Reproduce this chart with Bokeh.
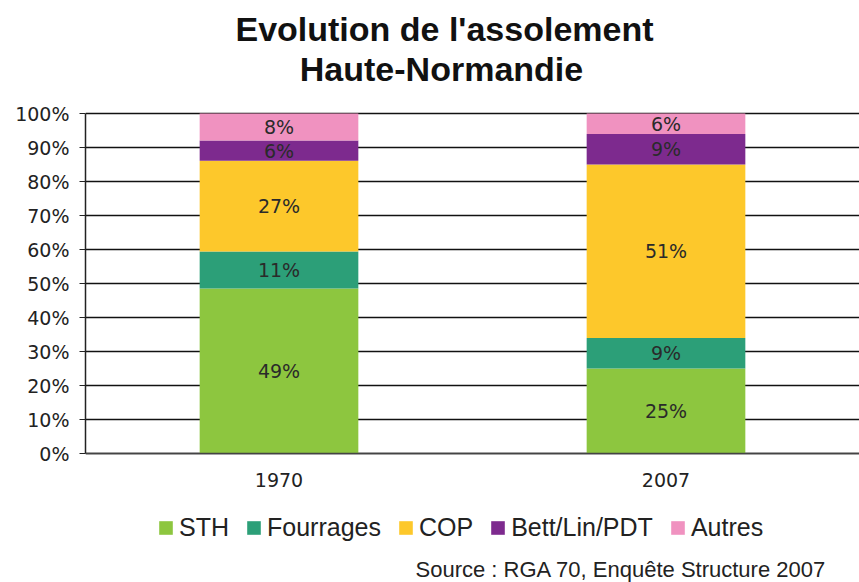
from bokeh.plotting import figure
from bokeh.models import (ColumnDataSource, FactorRange, FixedTicker, Legend, LegendItem,
                          Label, LabelSet, CustomJSTickFormatter, Range1d)
from bokeh.core.properties import value
from bokeh.embed import file_html
from bokeh.resources import INLINE

# ---- data ----
years = ["1970", "2007"]
series = ["STH", "Fourrages", "COP", "Bett/Lin/PDT", "Autres"]
sth = [49, 25]
fourrages = [11, 9]
cop = [27, 51]
bett = [6, 9]
autres = [8, 6]
colors = ["#8DC63F", "#2C9F78", "#FDC82B", "#7D2A8E", "#F092C0"]
y_ticks = [0, 10, 20, 30, 40, 50, 60, 70, 80, 90, 100]

values = [sth, fourrages, cop, bett, autres]
totals = [sum(v[i] for v in values) for i in range(len(years))]
# 100% stacked: each share normalised to its column total
shares = [[v[i] * 100.0 / totals[i] for i in range(len(years))] for v in values]

# ---- layout: plot area spans the canvas height, the axis sits at 0 ----
W, H = 859, 582
axis_top_px, axis_bottom_px = 113, 453           # canvas rows of 100% and 0%
ppu = (axis_bottom_px - axis_top_px) / 100.0
y_range = Range1d(start=-(H - axis_bottom_px) / ppu, end=axis_bottom_px / ppu)

p = figure(width=W, height=H, x_range=FactorRange(factors=years), y_range=y_range,
           output_backend="svg", toolbar_location=None,
           min_border_left=85, min_border_right=0, min_border_top=0,
           min_border_bottom=0)
p.outline_line_color = None
p.background_fill_color = "white"
p.border_fill_color = "white"

bottoms = [0.0] * len(years)
items = []
label_x, label_y, label_t = [], [], []
for name, sh, raw, col in zip(series, shares, values, colors):
    tops = [b + s for b, s in zip(bottoms, sh)]
    src = ColumnDataSource(dict(x=years, bottom=bottoms, top=tops))
    r = p.vbar(x="x", bottom="bottom", top="top", width=0.41, source=src,
               fill_color=col, line_color=None)
    items.append(LegendItem(label=name, renderers=[r]))
    for i in range(len(years)):
        label_x.append(years[i])
        label_y.append((bottoms[i] + tops[i]) / 2)
        label_t.append(f"{raw[i]}%")
    bottoms = tops

lsrc = ColumnDataSource(dict(x=label_x, y=label_y, t=label_t))
p.add_layout(LabelSet(x="x", y="y", text="t", source=lsrc, text_align="center",
                      text_baseline="middle", text_font=value("DejaVu Sans"),
                      text_font_size="19px", text_color="#2a2a2a"))

# axes
p.yaxis.ticker = FixedTicker(ticks=y_ticks)
p.yaxis.bounds = (y_ticks[0], y_ticks[-1])
p.yaxis.formatter = CustomJSTickFormatter(code="return tick + '%';")
p.yaxis.major_label_text_font = "DejaVu Sans"
p.yaxis.major_label_text_font_size = "19px"
p.yaxis.major_label_text_color = "#222222"
p.yaxis.axis_line_color = "#222222"
p.yaxis.axis_line_width = 1.5
p.yaxis.major_tick_line_color = "#222222"
p.yaxis.major_tick_in = 0
p.yaxis.major_tick_out = 6
p.yaxis.minor_tick_line_color = None
p.yaxis.major_label_standoff = 10

p.xaxis.fixed_location = 0
p.xaxis.axis_line_color = "#444444"
p.xaxis.axis_line_width = 1.5
p.xaxis.major_tick_line_color = None
p.xaxis.major_label_text_font = "DejaVu Sans"
p.xaxis.major_label_text_font_size = "19px"
p.xaxis.major_label_text_color = "#222222"
p.xaxis.major_label_standoff = 13

p.xgrid.grid_line_color = None
p.ygrid.grid_line_color = "#111111"
p.ygrid.grid_line_width = 1.5

# legend below the axis
legend = Legend(items=items, orientation="horizontal", location=(72, 40),
                border_line_color=None, background_fill_alpha=0,
                label_text_font="Liberation Sans", label_text_font_size="25px",
                label_text_color="#222222", glyph_width=17, glyph_height=17,
                label_height=17, label_standoff=5, spacing=16, padding=0, margin=0)
p.add_layout(legend, "center")

# titles and source (screen px from the plot area's bottom-left)
p.add_layout(Label(x=359, y=H - 28, x_units="screen", y_units="screen",
                   text="Evolution de l'assolement", text_align="center",
                   text_baseline="middle", text_font="Liberation Sans",
                   text_font_style="bold", text_font_size="34px", text_color="#111111"))
p.add_layout(Label(x=356, y=H - 68, x_units="screen", y_units="screen",
                   text="Haute-Normandie", text_align="center",
                   text_baseline="middle", text_font="Liberation Sans",
                   text_font_style="bold", text_font_size="34px", text_color="#111111"))
p.add_layout(Label(x=330, y=13, x_units="screen", y_units="screen",
                   text="Source : RGA 70, Enquête Structure 2007", text_align="left",
                   text_baseline="middle", text_font="Liberation Sans",
                   text_font_size="22px", text_color="#222222"))

open("out.html", "w").write(file_html(p, INLINE))
